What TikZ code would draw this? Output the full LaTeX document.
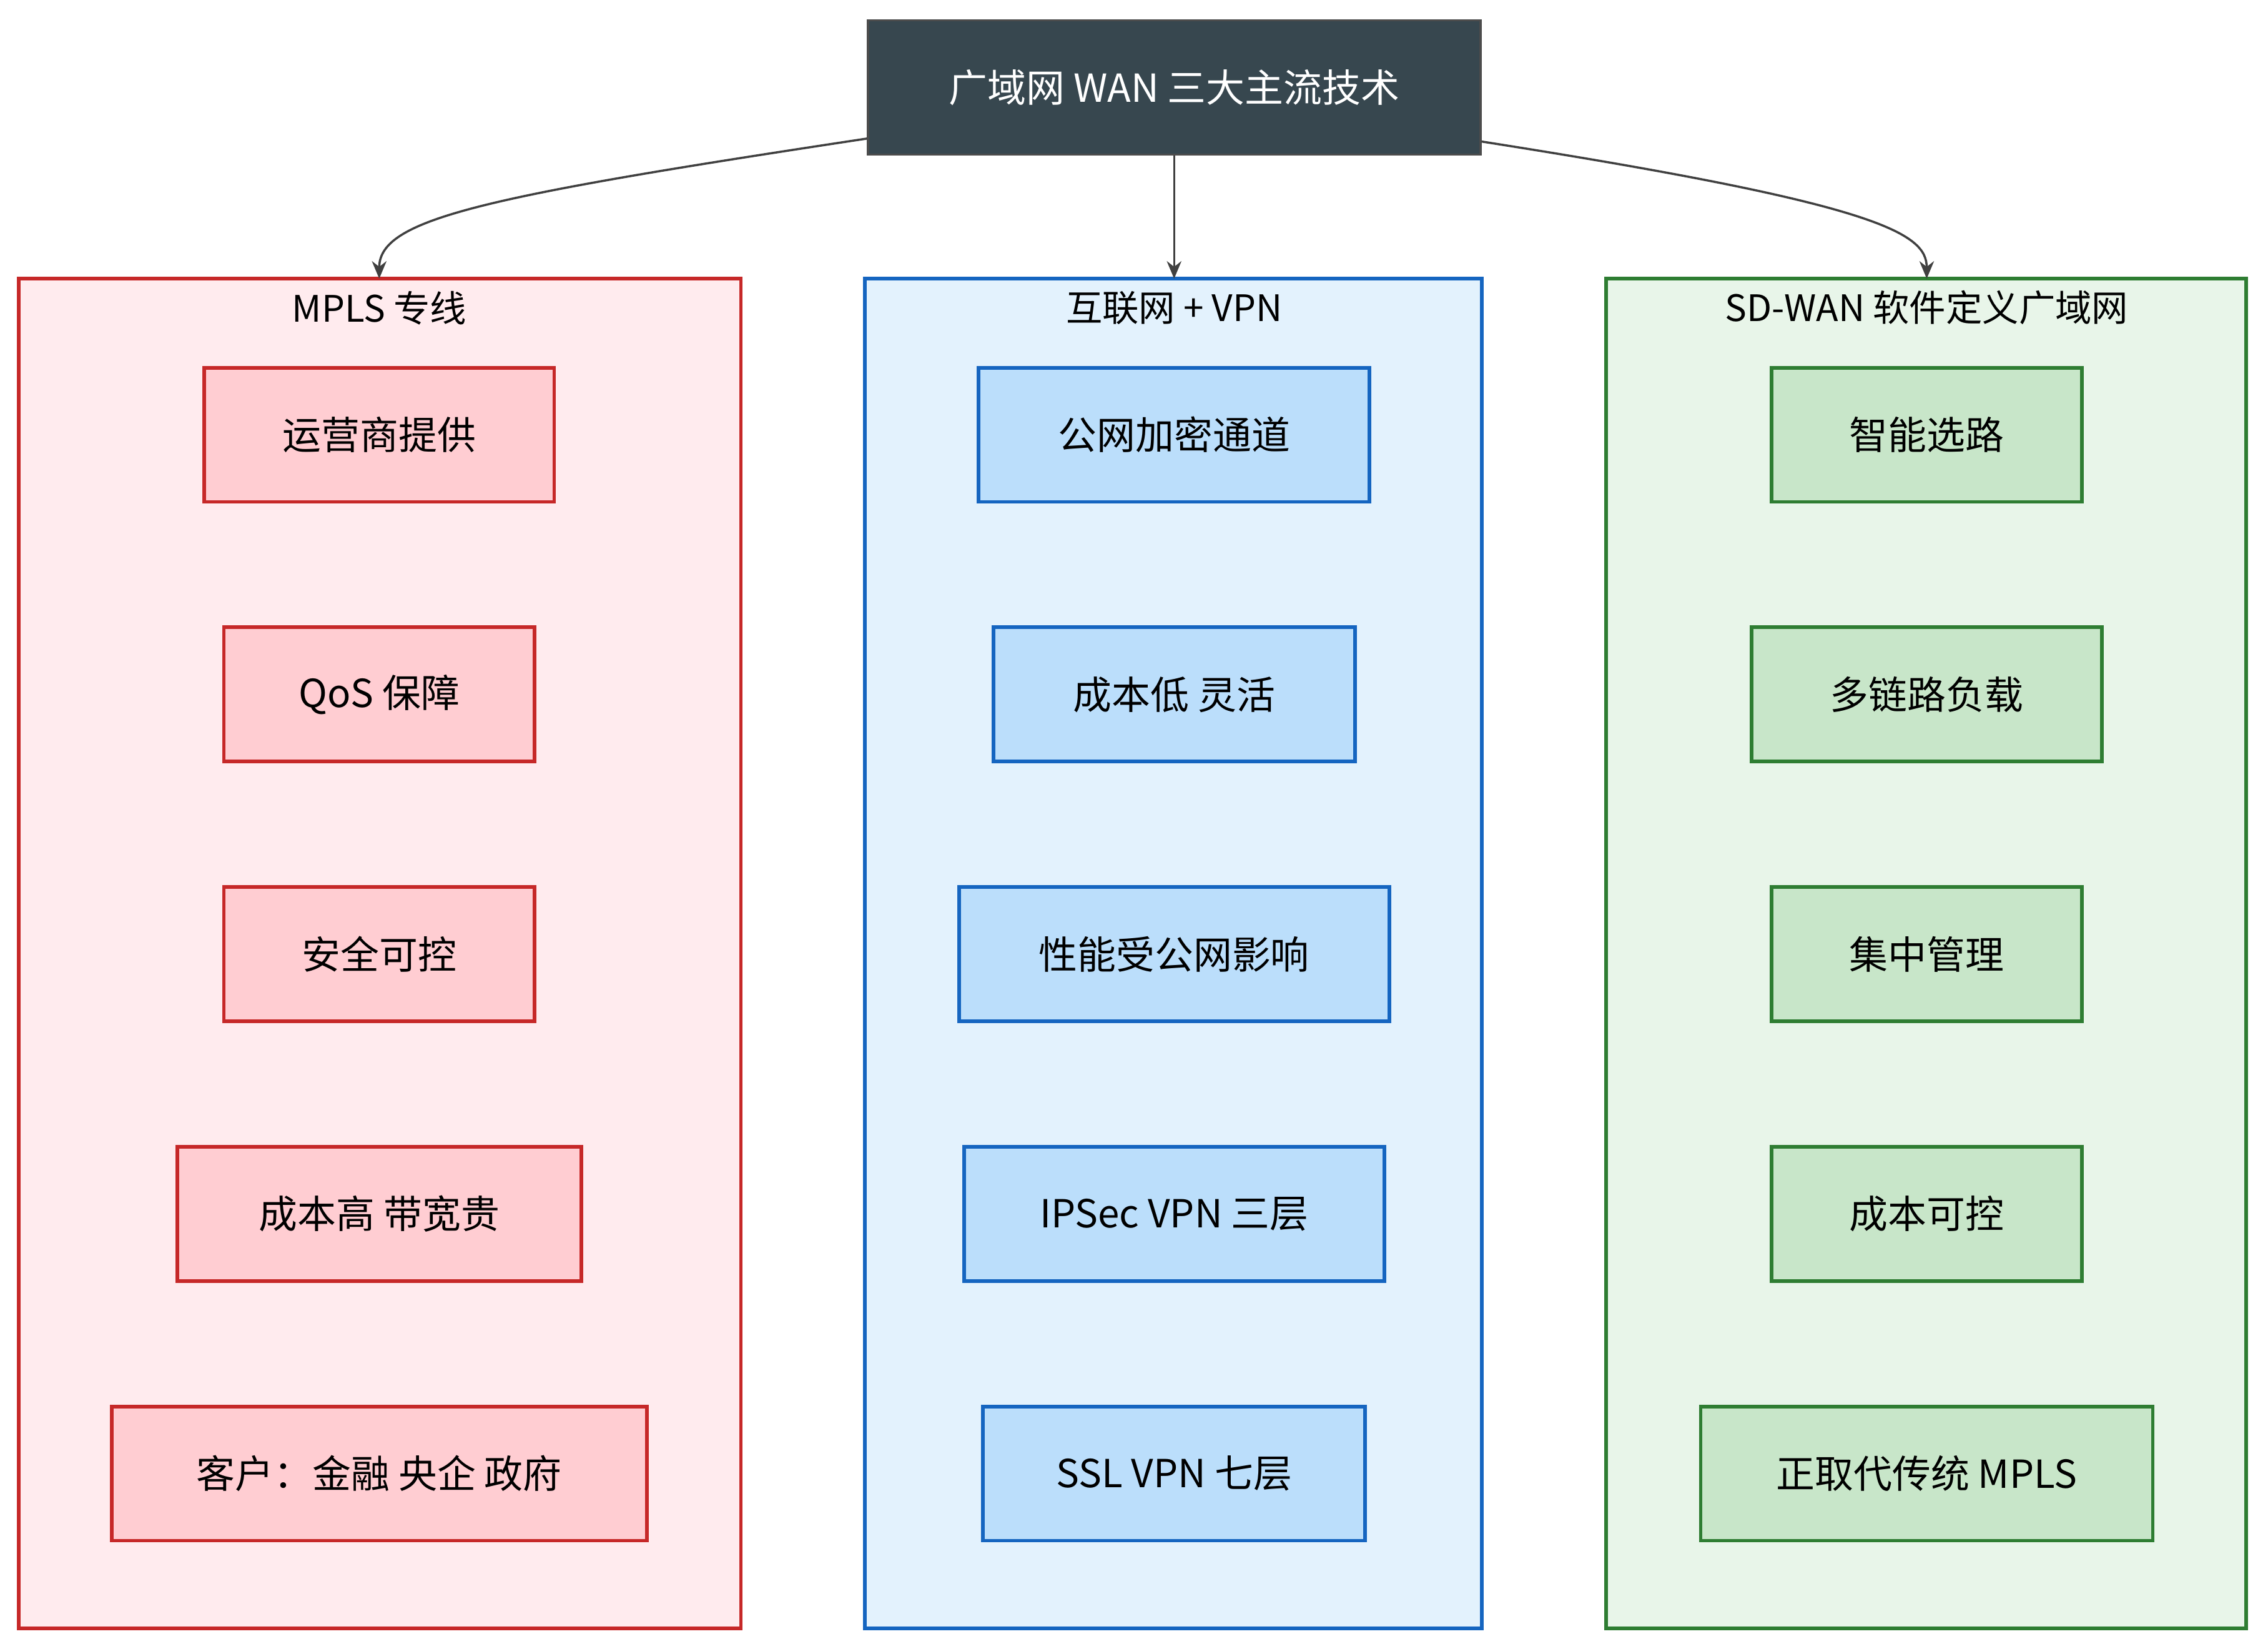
\documentclass[tikz,border=0pt]{standalone}
\usepackage{fontspec}
\setmainfont{Noto Sans CJK SC}
\usetikzlibrary{arrows.meta}
\definecolor{topf}{HTML}{37474F}
\definecolor{rs}{HTML}{C62828}\definecolor{rc}{HTML}{FFEBEE}\definecolor{rn}{HTML}{FFCDD2}
\definecolor{bs}{HTML}{1565C0}\definecolor{bc}{HTML}{E3F2FD}\definecolor{bn}{HTML}{BBDEFB}
\definecolor{gs}{HTML}{2E7D32}\definecolor{gc}{HTML}{E8F5E9}\definecolor{gn}{HTML}{C8E6C9}
\begin{document}
\begin{tikzpicture}[x=1pt,y=-1pt,
  box/.style={draw=#1s,fill=#1n,line width=2.5pt,minimum height=92pt,inner sep=0pt,font=\fontsize{26.5}{30}\selectfont},
  clu/.style={draw=#1s,fill=#1c,line width=2.5pt},
  ttl/.style={font=\fontsize{25}{28}\selectfont},
  edge/.style={draw=black!75,line width=1.5pt,-{Stealth[length=12pt,width=10pt]}}]
\useasboundingbox (0,0) rectangle (1555,1130);
\node[fill=topf,draw=black!70,line width=1.5pt,text=white,minimum width=420pt,minimum height=92pt,font=\fontsize{26.5}{30}\selectfont] (top) at (805,60) {广域网 WAN 三大主流技术};
\draw[clu=r] (13,191) rectangle (508,1116);
\draw[clu=b] (593,191) rectangle (1016,1116);
\draw[clu=g] (1101,191) rectangle (1540,1116);
\node[ttl] (tr) at (260,211) {MPLS 专线};
\node[ttl] (tb) at (805,211) {互联网 + VPN};
\node[ttl] (tg) at (1321,211) {SD-WAN 软件定义广域网};
\coordinate (er) at (260,191);\coordinate (eb) at (805,191);\coordinate (eg) at (1321,191);
\node[box=r,minimum width=240pt] (r1) at (260,298) {运营商提供};
\node[box=r,minimum width=213pt] (r2) at (260,476) {QoS 保障};
\node[box=r,minimum width=213pt] (r3) at (260,654) {安全可控};
\node[box=r,minimum width=277pt] (r4) at (260,832) {成本高 带宽贵};
\node[box=r,minimum width=367pt] (r5) at (260,1010) {客户：金融 央企 政府};
\node[box=b,minimum width=268pt] (b1) at (805,298) {公网加密通道};
\node[box=b,minimum width=248pt] (b2) at (805,476) {成本低 灵活};
\node[box=b,minimum width=295pt] (b3) at (805,654) {性能受公网影响};
\node[box=b,minimum width=288pt] (b4) at (805,832) {IPSec VPN 三层};
\node[box=b,minimum width=262pt] (b5) at (805,1010) {SSL VPN 七层};
\node[box=g,minimum width=213pt] (g1) at (1321,298) {智能选路};
\node[box=g,minimum width=240pt] (g2) at (1321,476) {多链路负载};
\node[box=g,minimum width=213pt] (g3) at (1321,654) {集中管理};
\node[box=g,minimum width=213pt] (g4) at (1321,832) {成本可控};
\node[box=g,minimum width=310pt] (g5) at (1321,1010) {正取代传统 MPLS};
\draw[edge] (top.south west |- 0,95) .. controls (330,135) and (260,150) .. (er);
\draw[edge] (top.south) -- (eb);
\draw[edge] (top.south east |- 0,97) .. controls (1290,140) and (1321,160) .. (eg);
\end{tikzpicture}
\end{document}
